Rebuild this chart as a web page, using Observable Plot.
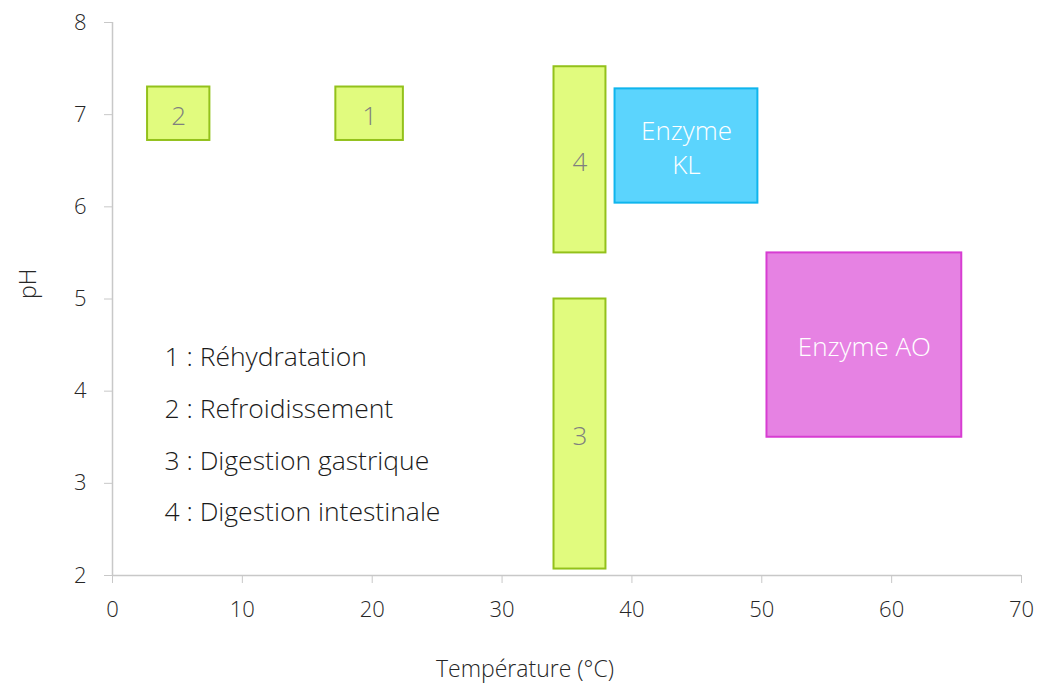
<!DOCTYPE html>
<html>
<head>
<meta charset="utf-8">
<script src="https://cdn.jsdelivr.net/npm/d3@7"></script>
<script src="https://cdn.jsdelivr.net/npm/@observablehq/plot@0.6"></script>
<style>
  body { margin: 0; background: #fff; }
  svg { font-family: "Open Sans", "Noto Sans", sans-serif; }
</style>
</head>
<body>
<div id="chart"></div>
<script>
// Zones (temperature °C range, pH range)
const zoneLabels = ["2", "1", "4", "3", "Enzyme\nKL", "Enzyme AO"];
const zoneX1 = [2.7, 17.2, 34.0, 34.0, 38.7, 50.4];
const zoneX2 = [7.5, 22.4, 38.0, 38.0, 49.7, 65.4];
const zoneY1 = [6.72, 6.72, 5.5, 2.07, 6.04, 3.5];
const zoneY2 = [7.3, 7.3, 7.52, 5.0, 7.28, 5.5];
const zoneKind = ["step", "step", "step", "step", "KL", "AO"];

const legendLines = ["1 : Réhydratation", "2 : Refroidissement", "3 : Digestion gastrique", "4 : Digestion intestinale"];
const legendY = [4.36, 3.8, 3.24, 2.68];
const legendX = 4.0;

const xTicks = [0, 10, 20, 30, 40, 50, 60, 70];
const yTicks = [2, 3, 4, 5, 6, 7, 8];

const zones = zoneLabels.map((l, i) => ({
  label: l, x1: zoneX1[i], x2: zoneX2[i], y1: zoneY1[i], y2: zoneY2[i], kind: zoneKind[i]
}));
const legend = legendLines.map((t, i) => ({ text: t, x: legendX, y: legendY[i] }));

const fillMap = { step: "#e1fb7e", KL: "#5bd4fd", AO: "#e682e3" };
const strokeMap = { step: "#93c11b", KL: "#0fb5ed", AO: "#d73dd2" };
const textMap = { step: "#7f7f7f", KL: "#ffffff", AO: "#ffffff" };

const chart = Plot.plot({
  width: 1039,
  height: 688,
  marginLeft: 112,
  marginRight: 18,
  marginTop: 22,
  marginBottom: 113,
  style: { fontFamily: "'Open Sans', 'Noto Sans', sans-serif", background: "#fff" },
  x: { domain: [0, 70] },
  y: { domain: [2, 8] },
  marks: [
    Plot.ruleX([0], { stroke: "#c8c8c8", strokeWidth: 1.5 }),
    Plot.ruleY([2], { stroke: "#c8c8c8", strokeWidth: 1.5 }),
    Plot.axisX({ ticks: xTicks, tickSize: 8, tickPadding: 18, stroke: "#c8c8c8", fill: "#262626", fontSize: 22, fontWeight: 300, tickFormat: d3.format("d"), label: null }),
    Plot.axisY({ ticks: yTicks, tickSize: 8, tickPadding: 18, stroke: "#c8c8c8", fill: "#262626", fontSize: 22, fontWeight: 300, tickFormat: d3.format("d"), label: null }),
    Plot.rect(zones, {
      x1: "x1", x2: "x2", y1: "y1", y2: "y2",
      fill: d => fillMap[d.kind], stroke: d => strokeMap[d.kind], strokeWidth: 2
    }),
    Plot.text(zones, {
      x: d => (d.x1 + d.x2) / 2, y: d => (d.y1 + d.y2) / 2,
      text: "label", fill: d => textMap[d.kind], fontSize: 26, fontWeight: 300, lineHeight: 1.3
    }),
    Plot.text(legend, { x: "x", y: "y", text: "text", textAnchor: "start", fontSize: 26.5, fontWeight: 300, fill: "#1a1a1a" }),
    Plot.text(["Température (°C)"], { frameAnchor: "bottom", dx: -42, dy: 101, fontSize: 23, fontWeight: 300, fill: "#262626" }),
    Plot.text(["pH"], { frameAnchor: "left", dx: -84, rotate: -90, fontSize: 23, fontWeight: 300, fill: "#262626" })
  ]
});
document.getElementById("chart").appendChild(chart);
</script>
</body>
</html>
